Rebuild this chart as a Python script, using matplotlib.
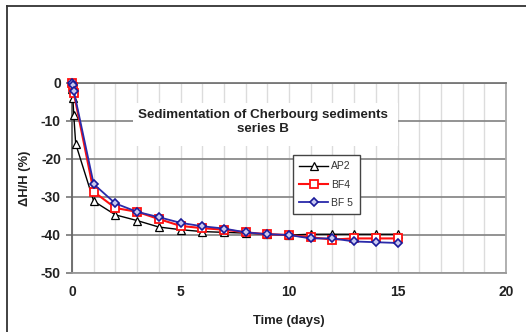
import matplotlib
matplotlib.use("Agg")
import matplotlib.pyplot as plt
from matplotlib.lines import Line2D
from matplotlib.patches import Rectangle

plt.rcParams["font.family"] = ["Liberation Sans", "DejaVu Sans"]
plt.rcParams["axes.unicode_minus"] = False

# data
ap2_days = [0, 0.02, 0.04, 0.08, 0.17, 1, 2, 3, 4, 5, 6, 7, 8, 9, 10, 11, 12, 13, 14, 15]
ap2_dh = [0, -1.5, -3.9, -8.3, -16.0, -31.1, -34.7, -36.2, -37.9, -38.6, -39.1, -39.3,
          -39.5, -39.8, -40.0, -39.8, -39.8, -39.8, -39.8, -39.8]

bf4_days = [0, 0.04, 0.08, 1, 2, 3, 4, 5, 6, 7, 8, 9, 10, 11, 12, 13, 14, 15]
bf4_dh = [0, -1.0, -2.6, -28.6, -32.9, -33.9, -35.8, -37.6, -38.2, -38.6, -39.3, -39.8,
          -40.0, -40.6, -41.2, -40.9, -40.9, -40.9]

bf5_days = [0, 0.04, 0.08, 1, 2, 3, 4, 5, 6, 7, 8, 9, 10, 11, 12, 13, 14, 15]
bf5_dh = [0, -0.6, -2.0, -26.6, -31.7, -33.9, -35.3, -36.8, -37.7, -38.3, -39.3, -39.8,
          -40.0, -40.9, -40.9, -41.7, -41.9, -42.1]

labels = ["AP2", "BF4", "BF 5"]

fig = plt.figure(figsize=(5.26, 3.32), dpi=100)
ax = fig.add_axes([72 / 526, 1 - 273 / 332, 434 / 526, 190 / 332])

ax.plot(ap2_days, ap2_dh, color="black", lw=1.0, marker="^", ms=5.5,
        mfc="white", mec="black", mew=0.9, label=labels[0], zorder=3, clip_on=False)
ax.plot(bf4_days, bf4_dh, color="#ff1010", lw=1.5, marker="s", ms=6,
        mfc="white", mec="#ff1010", mew=1.3, label=labels[1], zorder=4, clip_on=False)
ax.plot(bf5_days, bf5_dh, color="#2a2aaa", lw=1.3, marker="D", ms=4,
        mfc="#c8c8f0", mec="#1a1a9a", mew=1.2, label=labels[2], zorder=5, clip_on=False)

ax.set_xlim(0, 20)
ax.set_ylim(-50, 0)
ax.set_xticks([0, 5, 10, 15, 20])
ax.set_xticks(range(0, 21), minor=True)
ax.set_yticks([0, -10, -20, -30, -40, -50])

ax.grid(which="minor", axis="x", color="#dcdcdc", lw=1.0, zorder=0)
ax.grid(which="major", axis="x", color="#dcdcdc", lw=1.0, zorder=0)
ax.grid(which="major", axis="y", color="#8a8a8a", lw=1.3, zorder=1)

ax.spines["left"].set_color("#666666")
ax.spines["left"].set_linewidth(1.3)
ax.spines["top"].set_color("#777777")
ax.spines["top"].set_linewidth(1.3)
ax.spines["bottom"].set_color("#999999")
ax.spines["bottom"].set_linewidth(1.3)
ax.spines["right"].set_color("#aaaaaa")
ax.spines["right"].set_linewidth(1.3)

ax.tick_params(axis="y", length=4, width=1.2, color="#777777", labelsize=10,
               labelcolor="#222222", pad=4)
ax.tick_params(axis="x", which="both", length=0, labelsize=10,
               labelcolor="#222222", pad=9)
for lab in ax.get_xticklabels() + ax.get_yticklabels():
    lab.set_fontweight("bold")

ax.set_xlabel("Time (days)", fontsize=9.4, fontweight="bold", color="#222222", labelpad=11)
ax.set_ylabel("\u0394H/H (%)", fontsize=9.4, fontweight="bold", color="#222222", labelpad=7)

# title sits on a white box that hides the grid behind it
ax.add_patch(Rectangle((0.1406, 0.668), 0.61, 0.227, transform=ax.transAxes,
                       facecolor="white", edgecolor="none", zorder=2))
ax.text(0.44, 0.795, "Sedimentation of Cherbourg sediments\nseries B", transform=ax.transAxes,
        ha="center", va="center", fontsize=9.6, fontweight="bold", color="#222222",
        linespacing=1.2, zorder=6)

leg = ax.legend(loc="upper left", bbox_to_anchor=(0.509, 0.621), fontsize=7.5,
                frameon=True, fancybox=False, framealpha=1, edgecolor="#444444",
                handlelength=2.8, handletextpad=0.3, labelspacing=0.8,
                borderpad=0.6, borderaxespad=0)
leg.get_frame().set_linewidth(1.0)
leg.set_zorder(7)
for t in leg.get_texts():
    t.set_color("#333333")

# outer chart-area frame (top and left edges only visible)
fig.add_artist(Line2D([7 / 526, 1.0], [1 - 6 / 332, 1 - 6 / 332], color="#333333", lw=1.3))
fig.add_artist(Line2D([7 / 526, 7 / 526], [0.0, 1 - 6 / 332], color="#333333", lw=1.3))

fig.savefig("out.png", dpi=100)
